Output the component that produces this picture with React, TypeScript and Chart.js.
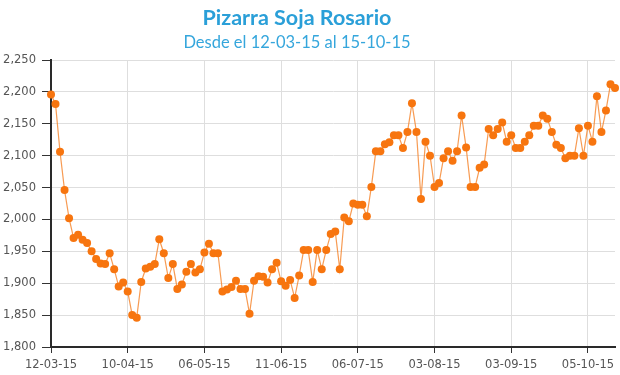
import React, { useEffect, useRef } from "react";
import { Chart, registerables } from "chart.js";

Chart.register(...registerables);

const titleText = "Pizarra Soja Rosario";
const subtitleText = "Desde el 12-03-15 al 15-10-15";

const tickLabels = [
  "12-03-15",
  "10-04-15",
  "06-05-15",
  "11-06-15",
  "06-07-15",
  "03-08-15",
  "03-09-15",
  "05-10-15",
];
const tickEvery = 17;

const prices = [
  2196, 2181, 2106, 2046, 2002, 1971, 1976, 1968, 1963, 1950,
  1938, 1931, 1930, 1947, 1922, 1895, 1901, 1887, 1850, 1846,
  1902, 1923, 1926, 1930, 1969, 1947, 1908, 1930, 1891, 1898,
  1918, 1930, 1917, 1922, 1948, 1962, 1947, 1947, 1887, 1890,
  1894, 1904, 1891, 1891, 1852, 1904, 1911, 1910, 1901, 1922,
  1932, 1903, 1896, 1905, 1877, 1912, 1952, 1952, 1902, 1952,
  1922, 1952, 1977, 1981, 1922, 2003, 1997, 2025, 2023, 2023,
  2005, 2051, 2107, 2107, 2118, 2121, 2132, 2132, 2112, 2137,
  2182, 2137, 2032, 2122, 2100, 2051, 2057, 2096, 2107, 2092,
  2107, 2163, 2113, 2051, 2051, 2081, 2086, 2142, 2132, 2142,
  2152, 2122, 2132, 2112, 2112, 2122, 2132, 2147, 2147, 2163,
  2158, 2137, 2117, 2112, 2096, 2100, 2100, 2143, 2100, 2147,
  2122, 2193, 2137, 2171, 2212, 2206,
];

const categories = prices.map((_, i) =>
  i % tickEvery === 0 && tickLabels[i / tickEvery] ? tickLabels[i / tickEvery] : ""
);

const yMin = 1800;
const yMax = 2250;
const yStep = 50;

export default function App() {
  const ref = useRef<HTMLCanvasElement | null>(null);

  useEffect(() => {
    if (!ref.current) return;
    const chart = new Chart(ref.current, {
      type: "line",
      data: {
        labels: categories,
        datasets: [
          {
            data: prices,
            borderColor: "rgba(245,130,40,0.8)",
            borderWidth: 1.2,
            pointBackgroundColor: "#f7750f",
            pointBorderColor: "#f7750f",
            pointBorderWidth: 0,
            pointRadius: 4,
            tension: 0,
            fill: false,
          },
        ],
      },
      options: {
        animation: false,
        responsive: false,
        devicePixelRatio: 1,
        layout: { padding: { top: 60, left: 0, right: 5, bottom: 0 } },
        plugins: {
          legend: { display: false },
          tooltip: { enabled: false },
          title: { display: false },
        },
        scales: {
          x: {
            type: "category",
            offset: false,
            afterFit: (s: any) => {
              s.height = 28;
            },
            grid: {
              color: "#dedede",
              tickColor: "#333333",
              tickLength: 6,
              lineWidth: 1,
            },
            border: { color: "#2a2a2a", width: 2 },
            ticks: {
              autoSkip: false,
              maxRotation: 0,
              padding: 5,
              color: "#555555",
              font: { family: "DejaVu Sans", size: 11.5 },
              callback: (_v: any, index: number) =>
                categories[index] ? categories[index] : null,
            },
          },
          y: {
            min: yMin,
            max: yMax,
            afterFit: (s: any) => {
              s.width = 51;
            },
            grid: {
              color: "#dedede",
              tickColor: "#333333",
              tickLength: 9,
              lineWidth: 1,
            },
            border: { color: "#2a2a2a", width: 2 },
            ticks: {
              stepSize: yStep,
              padding: 6,
              color: "#555555",
              font: { family: "DejaVu Sans", size: 11.5 },
              callback: (v: any) => Number(v).toLocaleString("en-US"),
            },
          },
        },
      },
    });
    return () => chart.destroy();
  }, []);

  return (
    <div
      style={{
        position: "absolute",
        left: 0,
        top: 0,
        width: 620,
        height: 375,
        background: "#ffffff",
        overflow: "hidden",
      }}
    >
      <canvas
        ref={ref}
        width={620}
        height={375}
        style={{ position: "absolute", left: 0, top: 0, width: 620, height: 375 }}
      />
      <div
        style={{
          position: "absolute",
          left: 0,
          top: 3,
          width: 594,
          textAlign: "center",
          fontFamily: "Lato, 'Open Sans', sans-serif",
          fontWeight: 700,
          fontSize: 21.5,
          lineHeight: "28px",
          color: "#2a9fd8",
        }}
      >
        {titleText}
      </div>
      <div
        style={{
          position: "absolute",
          left: 0,
          top: 31,
          width: 594,
          textAlign: "center",
          fontFamily: "Lato, 'Open Sans', sans-serif",
          fontWeight: 400,
          fontSize: 16.5,
          lineHeight: "22px",
          color: "#35a6dc",
        }}
      >
        {subtitleText}
      </div>
    </div>
  );
}
